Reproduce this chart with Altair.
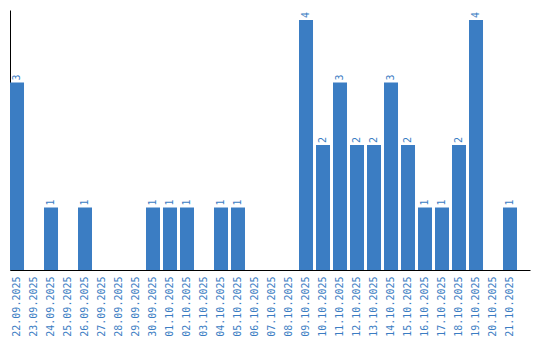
import altair as alt
import pandas as pd

dates = ["22.09.2025", "23.09.2025", "24.09.2025", "25.09.2025", "26.09.2025",
         "27.09.2025", "28.09.2025", "29.09.2025", "30.09.2025", "01.10.2025",
         "02.10.2025", "03.10.2025", "04.10.2025", "05.10.2025", "06.10.2025",
         "07.10.2025", "08.10.2025", "09.10.2025", "10.10.2025", "11.10.2025",
         "12.10.2025", "13.10.2025", "14.10.2025", "15.10.2025", "16.10.2025",
         "17.10.2025", "18.10.2025", "19.10.2025", "20.10.2025", "21.10.2025"]
counts = [3, 0, 1, 0, 1, 0, 0, 0, 1, 1,
          1, 0, 1, 1, 0, 0, 0, 4, 2, 3,
          2, 2, 3, 2, 1, 1, 2, 4, 0, 1]

df = pd.DataFrame({"date": dates, "count": counts})

blue = "#3b7dc3"
font = "DejaVu Sans Mono"

x = alt.X("date:O", sort=None, title=None,
          scale=alt.Scale(paddingInner=0.176, paddingOuter=0.382, align=0),
          axis=alt.Axis(labelAngle=-90, labelColor=blue, labelFont=font,
                        labelFontSize=10, ticks=False, domainColor="black",
                        labelPadding=6, labelAlign="right", labelBaseline="middle"))
y = alt.Y("count:Q", title=None,
          scale=alt.Scale(domain=[0, 4.16], nice=False),
          axis=alt.Axis(labels=False, ticks=False, grid=False, domainColor="black"))

bars = alt.Chart(df).mark_bar(color=blue).encode(x=x, y=y)

text = alt.Chart(df).transform_filter("datum.count > 0").mark_text(
    angle=270, align="left", baseline="middle", dx=2,
    color=blue, font=font, fontSize=10
).encode(x=x, y=y, text="count:Q")

chart = (bars + text).properties(
    width=520, height=260,
    autosize=alt.AutoSizeParams(type="none"),
    padding={"left": 10, "top": 10, "right": 10, "bottom": 70},
).configure_view(stroke=None)

chart.save("out.html", embed_options={"renderer": "svg", "actions": False})
